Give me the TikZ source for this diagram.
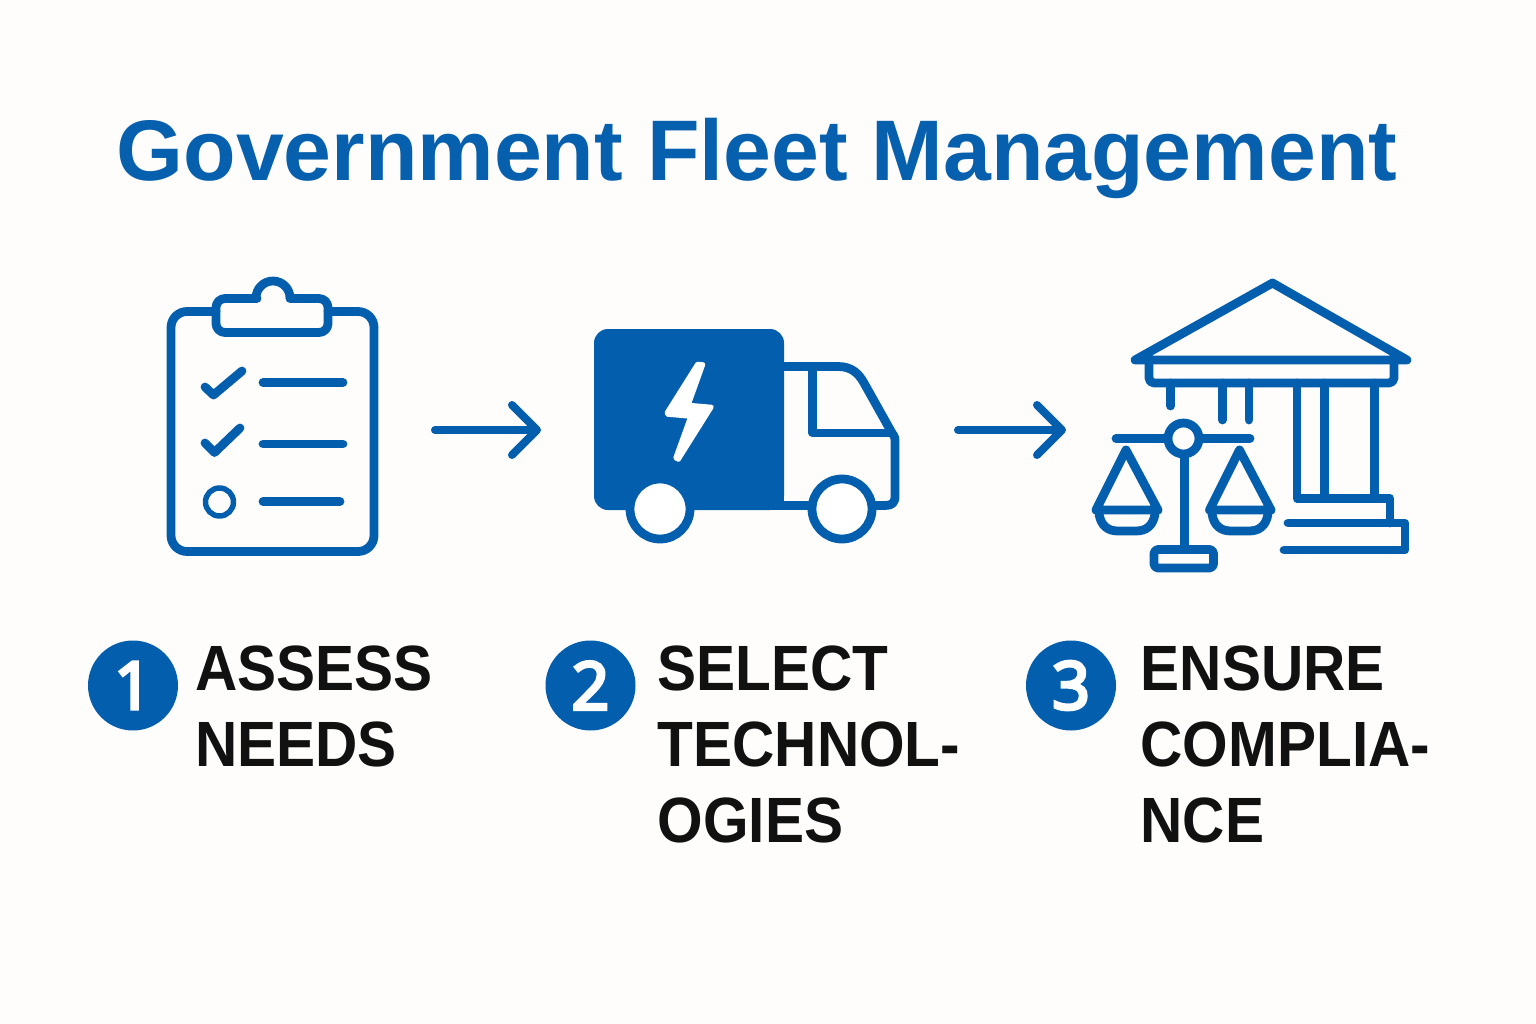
\documentclass[tikz,border=0pt]{standalone}
\usepackage{fontspec}
\usetikzlibrary{arrows.meta}
\setmainfont{Liberation Sans}
\newfontfamily\labfont[FakeStretch=0.915]{Liberation Sans}
\newfontfamily\titlefont[FakeStretch=1.0]{Liberation Sans}
\newfontfamily\digitfont[FakeBold=5]{Open Sans}
\definecolor{fleetblue}{HTML}{035FAD}
\definecolor{titleblue}{HTML}{0660AE}
\definecolor{inkblack}{HTML}{111111}
\definecolor{paper}{HTML}{FEFDFB}
\tikzset{
  icon/.style={draw=fleetblue,line width=8.8pt,line cap=round,line join=round},
  thin icon/.style={icon,line width=5.5pt},
  flow/.style={icon,line width=8pt,line join=miter,-{Straight Barb[length=25pt,width=50pt,round]}},
  badge/.style={circle,fill=fleetblue,minimum size=90pt,inner sep=0pt,text=white,font=\digitfont\fontsize{66}{66}\selectfont},
  steptext/.style={anchor=north west,align=left,inner sep=0pt,text=inkblack,font=\labfont\fontsize{64}{76}\selectfont\bfseries},
}
\begin{document}
\begin{tikzpicture}[x=1pt,y=-1pt]
\useasboundingbox (0,0) rectangle (1536,1024);
\fill[paper] (0,0) rectangle (1536,1024);
\node[anchor=base,inner sep=0pt,text=titleblue,font=\titlefont\fontsize{86}{86}\selectfont\bfseries] (title) at (757,180.5) {Government Fleet Management};

% clipboard
\draw[icon,rounded corners=16pt] (216,311.5) -- (171,311.5) -- (171,551.5) -- (374,551.5) -- (374,311.5) -- (328,311.5);
\draw[icon,rounded corners=9pt] (257,298.5) -- (216,298.5) -- (216,332.5) -- (328,332.5) -- (328,298.5) -- (290,298.5);
\draw[icon] (256,298) arc[start angle=180,end angle=360,radius=17];
\draw[icon] (205,387) -- (213.5,395) -- (242,371);
\draw[icon] (205,443) -- (214.5,452.5) -- (240,428);
\draw[icon] (263,382.5) -- (343,382.5);
\draw[icon] (263,444) -- (343,444);
\draw[icon] (263,501.5) -- (340,501.5);
\draw[thin icon] (219.5,502) circle[radius=14];

% arrows
\coordinate (a1s) at (435,430);
\coordinate (a1e) at (541,430);
\coordinate (a2s) at (958,430);
\coordinate (a2e) at (1066,430);
\draw[flow] (a1s) -- (a1e);
\draw[flow] (a2s) -- (a2e);

% truck
\fill[fleetblue,rounded corners=14pt] (594,329) -- (784,329) -- (784,400) -- (784,510) -- (594,510) -- cycle;
\fill[fleetblue] (770,480) rectangle (784,510);
\draw[icon,line cap=butt] (784,366.5) -- (838,366.5) .. controls (852,366.5) and (859,374) .. (864,383) -- (892,433) .. controls (895,437) and (895,438) .. (895,442) -- (895,496) .. controls (895,503) and (892,505.5) .. (885,505.5) -- (784,505.5);
\draw[icon,line cap=butt] (812.5,366.5) -- (812.5,433) -- (892,433);
\filldraw[white,line width=4.5pt,line join=round] (697.5,364) -- (703,364.5) -- (688.5,405) -- (711.5,407) -- (678.5,459.5) -- (675.5,458) -- (690.5,416.5) -- (667.5,414.5) -- (667,412.5) -- cycle;
\draw[icon,fill=white] (660,509) circle[radius=30];
\draw[icon,fill=white] (842,509) circle[radius=30];

% courthouse
\draw[icon] (1135,360) -- (1272.5,283) -- (1407,360) -- cycle;
\draw[icon,rounded corners=5pt] (1149,360) -- (1149,383) -- (1394,383) -- (1394,360);
\draw[icon] (1170.5,383) -- (1170.5,406);
\draw[icon] (1222.5,383) -- (1222.5,420);
\draw[icon] (1249,383) -- (1249,420);
\draw[icon] (1324.5,383) -- (1324.5,498);
\draw[icon] (1374.5,383) -- (1374.5,498);
\draw[icon] (1297,383) -- (1297,498.5) -- (1390,498.5) -- (1390,523);
\draw[icon] (1288,523) -- (1405,523) -- (1405,550) -- (1284,550);

% scales
\draw[icon] (1116,438.5) -- (1250,438.5);
\draw[icon] (1184.5,455) -- (1184.5,548);
\draw[icon,fill=paper] (1183.5,438.5) circle[radius=15.5];
\draw[icon,rounded corners=4pt] (1154,549.5) rectangle (1213.5,568);
\draw[icon] (1126,450) -- (1096,510) -- (1158,510) -- cycle;
\draw[icon] (1099,514) .. controls (1101,526) and (1108,531) .. (1118,531) -- (1136,531) .. controls (1146,531) and (1153,526) .. (1155,514);
\draw[icon] (1239.5,450) -- (1209.5,510) -- (1271,510) -- cycle;
\draw[icon] (1212,514) .. controls (1214,526) and (1221,531) .. (1231,531) -- (1249,531) .. controls (1259,531) and (1266,526) .. (1268,514);

% badges and labels
\node[badge] (b1) at (133,685.5) {1};
\node[badge] (b2) at (590.5,685.5) {2};
\node[badge] (b3) at (1071,685.5) {3};
\node[steptext] (t1) at (195,645.5) {ASSESS\\NEEDS};
\node[steptext] (t2) at (657.5,645.5) {SELECT\\TECHNOL-\\OGIES};
\node[steptext] (t3) at (1140.5,645.5) {ENSURE\\COMPLIA-\\NCE};
\end{tikzpicture}
\end{document}
